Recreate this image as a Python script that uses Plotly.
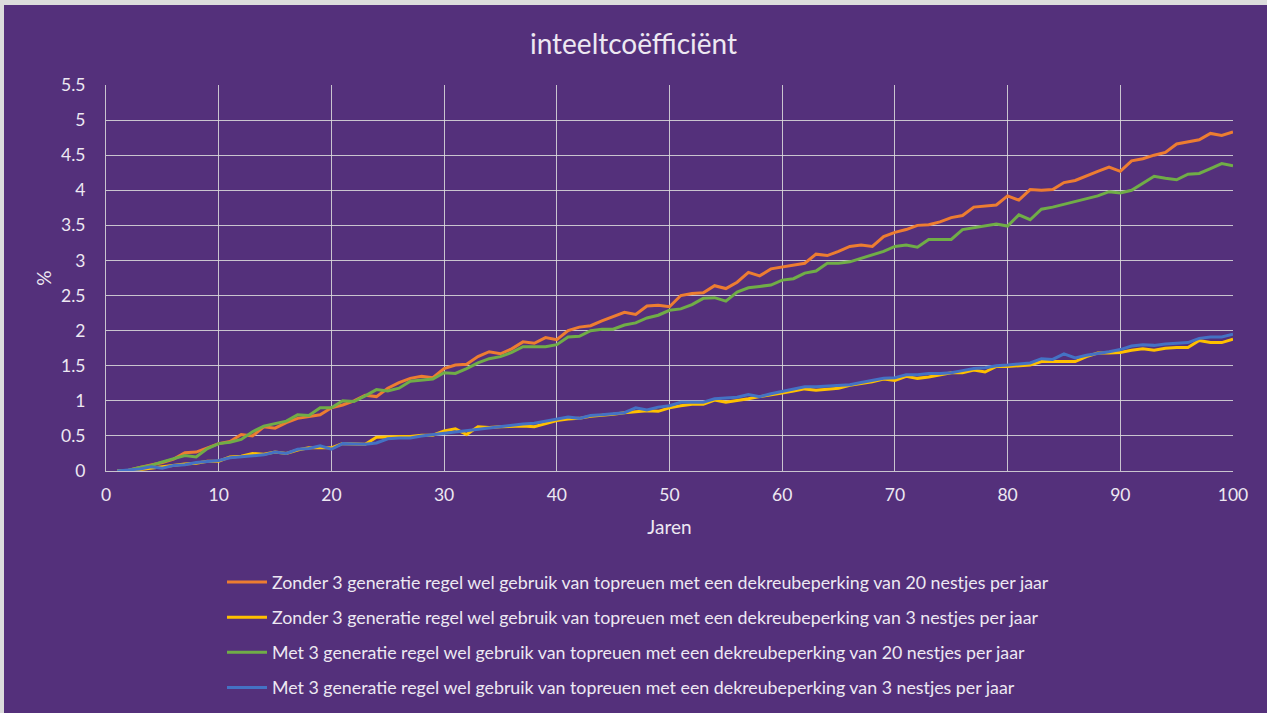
import plotly.graph_objects as go

years = list(range(1, 101))

zonder_20 = [
    0, 0.01, 0.05, 0.08, 0.12, 0.17, 0.26, 0.27, 0.33, 0.39,
    0.42, 0.52, 0.5, 0.63, 0.61, 0.69, 0.75, 0.78, 0.8, 0.9,
    0.94, 1.0, 1.08, 1.06, 1.18, 1.26, 1.32, 1.35, 1.33, 1.46,
    1.51, 1.52, 1.63, 1.70, 1.67, 1.74, 1.84, 1.82, 1.90, 1.87,
    2.0, 2.05, 2.07, 2.14, 2.2, 2.26, 2.23, 2.35, 2.36, 2.34,
    2.5, 2.53, 2.54, 2.64, 2.6, 2.69, 2.83, 2.78, 2.88, 2.91,
    2.93, 2.96, 3.09, 3.07, 3.13, 3.2, 3.22, 3.2, 3.34, 3.4,
    3.44, 3.5, 3.51, 3.55, 3.61, 3.64, 3.76, 3.78, 3.79, 3.92,
    3.86, 4.01, 4.0, 4.01, 4.11, 4.14, 4.21, 4.27, 4.33, 4.27,
    4.42, 4.45, 4.5, 4.54, 4.66, 4.69, 4.72, 4.81, 4.78, 4.83,
]

zonder_3 = [
    0, 0, 0.02, 0.04, 0.07, 0.09, 0.1, 0.11, 0.14, 0.14,
    0.2, 0.21, 0.25, 0.24, 0.27, 0.25, 0.3, 0.33, 0.33, 0.33,
    0.39, 0.39, 0.38, 0.48, 0.49, 0.49, 0.49, 0.51, 0.51, 0.57,
    0.6, 0.52, 0.63, 0.62, 0.63, 0.64, 0.64, 0.63, 0.68, 0.72,
    0.74, 0.75, 0.78, 0.79, 0.81, 0.83, 0.84, 0.86, 0.85, 0.9,
    0.93, 0.95, 0.95, 1.01, 0.98, 1.0, 1.03, 1.06, 1.08, 1.11,
    1.14, 1.17, 1.15, 1.17, 1.18, 1.22, 1.24, 1.27, 1.31, 1.29,
    1.35, 1.32, 1.34, 1.37, 1.4, 1.4, 1.44, 1.41, 1.49, 1.49,
    1.5, 1.51, 1.56, 1.56, 1.55, 1.56, 1.63, 1.68, 1.68, 1.69,
    1.72, 1.74, 1.72, 1.75, 1.76, 1.76, 1.86, 1.83, 1.83, 1.88,
]

met_20 = [
    0, 0.01, 0.05, 0.08, 0.13, 0.17, 0.22, 0.2, 0.32, 0.39,
    0.41, 0.45, 0.56, 0.64, 0.68, 0.71, 0.8, 0.79, 0.9, 0.9,
    1.0, 0.99, 1.07, 1.16, 1.14, 1.18, 1.28, 1.3, 1.31, 1.4,
    1.39, 1.46, 1.54, 1.6, 1.63, 1.69, 1.77, 1.77, 1.77, 1.8,
    1.91, 1.92, 2.0, 2.02, 2.02, 2.08, 2.11, 2.18, 2.22, 2.29,
    2.31, 2.37, 2.46, 2.47, 2.42, 2.55, 2.61, 2.63, 2.65, 2.72,
    2.74, 2.82, 2.85, 2.96, 2.96, 2.98, 3.03, 3.07, 3.13, 3.2,
    3.22, 3.19, 3.3, 3.3, 3.3, 3.44, 3.47, 3.49, 3.52, 3.49,
    3.65, 3.58, 3.73, 3.76, 3.8, 3.83, 3.87, 3.92, 3.98, 3.96,
    4.0, 4.1, 4.2, 4.17, 4.15, 4.23, 4.24, 4.31, 4.38, 4.35,
]

met_3 = [
    0, 0.01, 0.03, 0.06, 0.04, 0.08, 0.09, 0.12, 0.14, 0.15,
    0.19, 0.2, 0.22, 0.23, 0.27, 0.25, 0.31, 0.32, 0.36, 0.31,
    0.39, 0.38, 0.38, 0.4, 0.46, 0.47, 0.47, 0.5, 0.52, 0.54,
    0.55, 0.57, 0.6, 0.61, 0.64, 0.66, 0.67, 0.68, 0.71, 0.73,
    0.77, 0.75, 0.79, 0.8, 0.81, 0.83, 0.9, 0.87, 0.91, 0.93,
    0.98, 0.98, 0.98, 1.03, 1.04, 1.05, 1.09, 1.06, 1.1, 1.13,
    1.17, 1.2, 1.2, 1.21, 1.22, 1.23, 1.26, 1.29, 1.32, 1.33,
    1.37, 1.37, 1.39, 1.39, 1.4, 1.43, 1.46, 1.47, 1.5, 1.51,
    1.52, 1.54, 1.6, 1.59, 1.67, 1.61, 1.65, 1.67, 1.7, 1.73,
    1.78, 1.8, 1.79, 1.81, 1.82, 1.83, 1.89, 1.91, 1.91, 1.95,
]

series_names = [
    "Zonder 3 generatie regel wel gebruik van topreuen met een dekreubeperking van 20 nestjes per jaar",
    "Zonder 3 generatie regel wel gebruik van topreuen met een dekreubeperking van 3 nestjes per jaar",
    "Met 3 generatie regel wel gebruik van topreuen met een dekreubeperking van 20 nestjes per jaar",
    "Met 3 generatie regel wel gebruik van topreuen met een dekreubeperking van 3 nestjes per jaar",
]
series_values = [zonder_20, zonder_3, met_20, met_3]
series_colors = ["#ED7D31", "#FFC000", "#70AD47", "#4472C4"]

BG = "#54307B"
TEXT = "#EDE8F2"
GRID = "rgba(222,222,222,0.85)"
FONT = "Lato, 'Open Sans', sans-serif"

fig = go.Figure()
for i, (name, vals, col) in enumerate(zip(series_names, series_values, series_colors)):
    fig.add_trace(go.Scatter(
        x=years, y=vals, mode="lines", name=name,
        legendgroup=f"g{i}",
        line=dict(color=col, width=3),
    ))

W, H = 1267, 713
L, R, T, B = 106, 34, 85, 242
pw, ph = W - L - R, H - T - B

def px_to_paper_x(px):
    return (px - L) / pw

def py_to_paper_y(py):
    return (H - B - py) / ph

fig.update_layout(
    width=W, height=H,
    margin=dict(l=L, r=R, t=T, b=B, autoexpand=False),
    paper_bgcolor=BG, plot_bgcolor=BG,
    font=dict(family=FONT, color=TEXT, size=17.5),
    title=dict(text="inteeltcoëfficiënt", x=0.5, xanchor="center",
               y=1 - 44 / H, yanchor="middle",
               font=dict(size=28, color=TEXT, family=FONT)),
    xaxis=dict(range=[0, 100], dtick=10, tick0=0, showgrid=True, gridcolor=GRID,
               gridwidth=1, zeroline=False, showline=True, linecolor=GRID,
               ticks="", ticklabelstandoff=8, tickfont=dict(size=17.5, color=TEXT),
               title=dict(text="Jaren", font=dict(size=19, color=TEXT), standoff=16)),
    yaxis=dict(range=[0, 5.5], dtick=0.5, tick0=0, showgrid=True, gridcolor=GRID,
               gridwidth=1, zeroline=False, showline=True, linecolor=GRID,
               ticks="", ticklabelstandoff=16, tickfont=dict(size=17.5, color=TEXT),
               title=dict(text="%", font=dict(size=19, color=TEXT), standoff=4)),
    legend=dict(x=px_to_paper_x(222), y=py_to_paper_y(564), xanchor="left", yanchor="top",
                orientation="v", traceorder="grouped", tracegroupgap=9,
                bgcolor="rgba(0,0,0,0)", font=dict(size=17.8, color=TEXT, family=FONT),
                itemwidth=40),
    showlegend=True,
    shapes=[
        # light frame along the top and left edges
        dict(type="rect", xref="paper", yref="paper",
             x0=px_to_paper_x(0), x1=px_to_paper_x(W), y0=py_to_paper_y(5), y1=py_to_paper_y(0),
             fillcolor="#DCDCDC", line=dict(width=0), layer="above"),
        dict(type="rect", xref="paper", yref="paper",
             x0=px_to_paper_x(0), x1=px_to_paper_x(4), y0=py_to_paper_y(H), y1=py_to_paper_y(0),
             fillcolor="#DCDCDC", line=dict(width=0), layer="above"),
    ],
)

fig.write_html("out.html")
